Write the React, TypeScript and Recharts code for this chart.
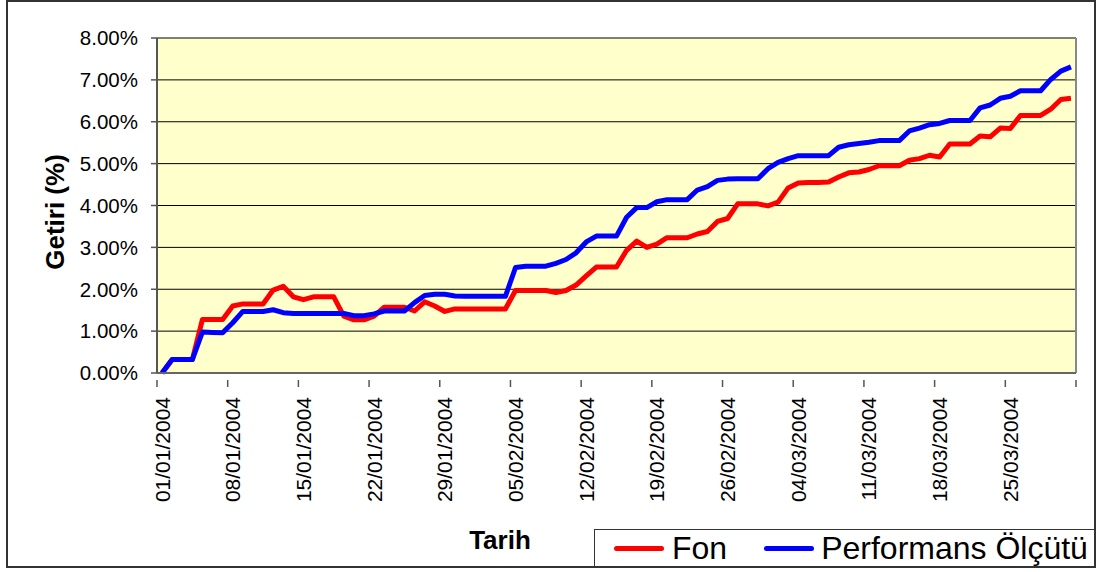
import { LineChart, Line, XAxis, YAxis, CartesianGrid, ReferenceLine } from 'recharts';

const START = new Date(2004, 0, 1);
const DAY_COUNT = 91;

// daily returns (%), 01/01/2004 .. 31/03/2004
const fonValues = [
  0, 0.32, 0.32, 0.32, 1.28, 1.28, 1.28, 1.6, 1.65, 1.65,
  1.65, 1.98, 2.07, 1.82, 1.75, 1.82, 1.82, 1.82, 1.36, 1.27,
  1.27, 1.36, 1.57, 1.57, 1.57, 1.48, 1.7, 1.6, 1.47, 1.53,
  1.53, 1.53, 1.53, 1.53, 1.53, 1.97, 1.97, 1.97, 1.97, 1.92,
  1.97, 2.1, 2.32, 2.53, 2.53, 2.53, 2.93, 3.15, 3.0, 3.08,
  3.23, 3.23, 3.23, 3.32, 3.38, 3.62, 3.69, 4.04, 4.04, 4.04,
  3.99, 4.08, 4.42, 4.54, 4.55, 4.55, 4.56, 4.68, 4.78, 4.8,
  4.86, 4.95, 4.95, 4.95, 5.08, 5.12, 5.2, 5.16, 5.47, 5.47,
  5.47, 5.66, 5.64, 5.85, 5.84, 6.15, 6.15, 6.15, 6.3, 6.53,
  6.56,
];

const olcutValues = [
  0, 0.32, 0.32, 0.32, 0.98, 0.97, 0.96, 1.2, 1.47, 1.47,
  1.47, 1.51, 1.44, 1.42, 1.42, 1.42, 1.42, 1.42, 1.42, 1.37,
  1.37, 1.41, 1.48, 1.48, 1.48, 1.68, 1.85, 1.88, 1.88, 1.84,
  1.83, 1.83, 1.83, 1.83, 1.83, 2.52, 2.55, 2.55, 2.55, 2.62,
  2.71, 2.87, 3.13, 3.27, 3.27, 3.27, 3.72, 3.95, 3.95, 4.09,
  4.14, 4.14, 4.14, 4.37, 4.45, 4.6, 4.63, 4.64, 4.64, 4.64,
  4.88, 5.03, 5.12, 5.19, 5.19, 5.19, 5.19, 5.39, 5.45, 5.48,
  5.51, 5.55, 5.55, 5.55, 5.78, 5.85, 5.93, 5.96, 6.03, 6.03,
  6.03, 6.33, 6.4, 6.56, 6.61, 6.74, 6.74, 6.74, 7.01, 7.21,
  7.31,
];

const yTicks = [0, 1, 2, 3, 4, 5, 6, 7, 8];
// tick marks sit between categories, one every week
const xTicks = Array.from({ length: 14 }, (_, k) => -0.5 + 7 * k);

const FONT = '"Liberation Sans", Arial, sans-serif';
const W = 1098;
const H = 572;
const PLOT_LEFT = 157;
const PLOT_RIGHT = 22;
const BAND = (W - PLOT_LEFT - PLOT_RIGHT) / DAY_COUNT;

function pad(n: number) {
  return n < 10 ? `0${n}` : `${n}`;
}

const dates = Array.from({ length: DAY_COUNT }, (_, i) => {
  const d = new Date(START.getFullYear(), START.getMonth(), START.getDate() + i);
  return `${pad(d.getDate())}/${pad(d.getMonth() + 1)}/${d.getFullYear()}`;
});

const data = dates.map((date, i) => ({ i, date, fon: fonValues[i], olcut: olcutValues[i] }));

function DateTick({ x, y, payload }: { x?: number; y?: number; payload?: { value: number } }) {
  const idx = Math.round((payload?.value ?? 0) + 0.5);
  const label = dates[idx];
  return (
    <g transform={`translate(${x},${y})`}>
      <line x1={0} y1={-1} x2={0} y2={6} stroke="#555" strokeWidth={1.5} />
      {label && (
        <text
          transform={`translate(${BAND / 2},0) rotate(-90)`}
          x={-16}
          y={0}
          textAnchor="end"
          dominantBaseline="central"
          fill="#000"
          fontSize={21}
          fontFamily={FONT}
        >
          {label}
        </text>
      )}
    </g>
  );
}

export default function App() {
  return (
    <div style={{ position: 'absolute', left: 0, top: 0, width: W, height: H, background: '#fff' }}>
      <div
        style={{
          position: 'absolute',
          left: 6,
          top: 0,
          width: 1090,
          height: 568,
          border: '2px solid #333',
          boxSizing: 'border-box',
        }}
      />
      <div style={{ position: 'absolute', left: 0, top: 0 }}>
        <LineChart width={W} height={H} data={data} margin={{ top: 38, right: PLOT_RIGHT, bottom: 69, left: 0 }}>
          <CartesianGrid vertical={false} fill="#FFFFCC" stroke="#000" strokeWidth={1} fillOpacity={1} />
          <XAxis
            dataKey="i"
            type="number"
            domain={[-0.5, DAY_COUNT - 0.5]}
            ticks={xTicks}
            interval={0}
            height={130}
            axisLine={{ stroke: '#666', strokeWidth: 2 }}
            tickLine={false}
            tick={<DateTick />}
            label={{
              content: () => (
                <text x={500} y={549} textAnchor="middle" fontSize={26} fontWeight="bold" fontFamily={FONT} fill="#000">
                  Tarih
                </text>
              ),
            }}
          />
          <YAxis
            type="number"
            domain={[0, 8]}
            ticks={yTicks}
            interval={0}
            width={PLOT_LEFT}
            axisLine={{ stroke: '#555', strokeWidth: 2 }}
            tickLine={{ stroke: '#555', strokeWidth: 1.5 }}
            tickSize={6}
            tickMargin={13}
            tick={{ fill: '#000', fontSize: 20.5, fontFamily: FONT }}
            tickFormatter={(v: number) => `${v.toFixed(2)}%`}
            label={{
              content: () => (
                <text
                  x={55}
                  y={212}
                  transform="rotate(-90 55 212)"
                  textAnchor="middle"
                  dominantBaseline="central"
                  fontSize={26}
                  fontWeight="bold"
                  fontFamily={FONT}
                  fill="#000"
                >
                  Getiri (%)
                </text>
              ),
            }}
          />
          <ReferenceLine x={DAY_COUNT - 0.5} stroke="#888" strokeWidth={2} />
          <Line
            type="linear"
            dataKey="fon"
            name="Fon"
            stroke="#FF0000"
            strokeWidth={5}
            strokeLinejoin="round"
            dot={false}
            isAnimationActive={false}
          />
          <Line
            type="linear"
            dataKey="olcut"
            name="Performans Ölçütü"
            stroke="#0000FF"
            strokeWidth={5}
            strokeLinejoin="round"
            dot={false}
            isAnimationActive={false}
          />
        </LineChart>
      </div>
      <div
        style={{
          position: 'absolute',
          left: 594,
          top: 529,
          width: 502,
          height: 39,
          border: '1px solid #333',
          boxSizing: 'border-box',
          display: 'flex',
          alignItems: 'center',
          fontFamily: FONT,
          fontSize: 32,
          color: '#000',
          whiteSpace: 'nowrap',
        }}
      >
        <span style={{ display: 'inline-block', width: 50, height: 5, background: '#FF0000', borderRadius: 3, marginLeft: 19 }} />
        <span style={{ marginLeft: 8 }}>Fon</span>
        <span style={{ display: 'inline-block', width: 50, height: 5, background: '#0000FF', borderRadius: 3, marginLeft: 37 }} />
        <span style={{ marginLeft: 7 }}>Performans Ölçütü</span>
      </div>
    </div>
  );
}
